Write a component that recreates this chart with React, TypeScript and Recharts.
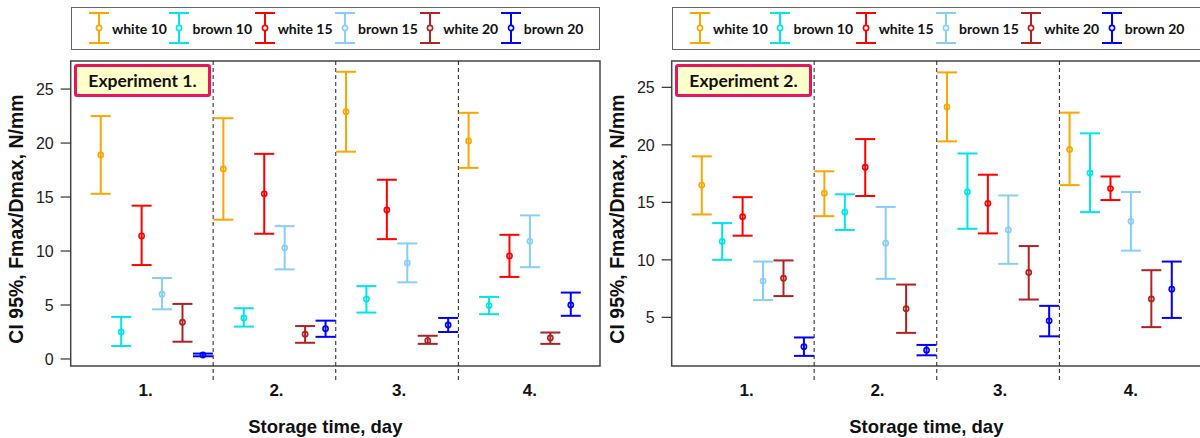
import React from "react";
import { ScatterChart, Scatter, XAxis, YAxis, ErrorBar, ReferenceLine, ReferenceArea, Label } from "recharts";

const seriesNames = ["white 10", "brown 10", "white 15", "brown 15", "white 20", "brown 20"];
const seriesColors = ["#FFA500", "#00E5EE", "#FF0000", "#87CEFA", "#B22222", "#0000FF"];
const dayLabels = ["1.", "2.", "3.", "4."];
const dayTickPos = [3.2, 9.6, 15.6, 22];
const dayDividers = [6.5, 12.5, 18.5];
const yTicks1 = [0, 5, 10, 15, 20, 25];
const yTicks2 = [5, 10, 15, 20, 25];

// rows = series (white 10 ... brown 20), columns = storage day 1..4
const exp1Mean = [
  [18.9, 17.6, 22.9, 20.2],
  [2.5, 3.8, 5.55, 4.95],
  [11.4, 15.3, 13.8, 9.55],
  [6.0, 10.3, 8.9, 10.9],
  [3.4, 2.3, 1.7, 1.95],
  [0.37, 2.8, 3.15, 5.0],
];
const exp1Low = [
  [15.3, 12.9, 19.2, 17.7],
  [1.2, 3.0, 4.3, 4.15],
  [8.7, 11.6, 11.1, 7.6],
  [4.6, 8.3, 7.1, 8.5],
  [1.6, 1.5, 1.4, 1.4],
  [0.25, 2.05, 2.5, 4.0],
];
const exp1High = [
  [22.5, 22.3, 26.6, 22.8],
  [3.9, 4.7, 6.75, 5.75],
  [14.2, 19.0, 16.6, 11.5],
  [7.5, 12.3, 10.7, 13.3],
  [5.1, 3.05, 2.15, 2.45],
  [0.5, 3.55, 3.8, 6.15],
];

const exp2Mean = [
  [16.5, 15.8, 23.3, 19.6],
  [11.6, 14.15, 15.9, 17.55],
  [13.75, 18.05, 14.9, 16.2],
  [8.15, 11.45, 12.6, 13.35],
  [8.4, 5.75, 8.9, 6.6],
  [2.45, 2.15, 4.7, 7.45],
];
const exp2Low = [
  [13.95, 13.8, 20.3, 16.5],
  [10.0, 12.6, 12.7, 14.15],
  [12.1, 15.55, 12.3, 15.2],
  [6.5, 8.35, 9.65, 10.8],
  [6.85, 3.65, 6.55, 4.15],
  [1.65, 1.7, 3.35, 4.95],
];
const exp2High = [
  [19.0, 17.7, 26.3, 22.8],
  [13.2, 15.7, 19.25, 21.0],
  [15.45, 20.5, 17.4, 17.25],
  [9.85, 14.6, 15.6, 15.9],
  [9.95, 7.85, 11.2, 9.1],
  [3.25, 2.6, 6.0, 9.85],
];

const R_FONT = "'Liberation Sans', Arial, sans-serif";
const CAL_FONT = "Lato, 'Open Sans', sans-serif";
const X_DOMAIN: [number, number] = [-0.47, 25.43];

const buildRows = (mean: number[][], low: number[][], high: number[][], s: number) =>
  mean[s].map((m, d) => ({
    x: d * 6 + s + 1,
    y: m,
    err: [m - low[s][d], high[s][d] - m],
  }));

const LegendIcon = ({ color }: { color: string }) => (
  <svg width={20} height={32} style={{ display: "block" }}>
    <line x1={10} y1={1} x2={10} y2={31} stroke={color} strokeWidth={2} />
    <line x1={0} y1={1} x2={20} y2={1} stroke={color} strokeWidth={2} />
    <line x1={0} y1={31} x2={20} y2={31} stroke={color} strokeWidth={2} />
    <circle cx={10} cy={16} r={2.6} fill="#fff" stroke={color} strokeWidth={1.6} />
  </svg>
);

const TopLegend = () => (
  <div
    style={{
      position: "absolute",
      left: 70.7,
      top: 6.7,
      width: 529.3,
      height: 43.3,
      boxSizing: "border-box",
      border: "1.5px solid #666",
      display: "flex",
      alignItems: "center",
      paddingLeft: 17.3,
      fontFamily: CAL_FONT,
      fontWeight: 700,
      fontSize: 14,
      color: "#111",
    }}
  >
    {seriesNames.map((n, i) => (
      <div key={n} style={{ display: "flex", alignItems: "center", marginRight: 2.5 }}>
        <LegendIcon color={seriesColors[i]} />
        <span style={{ marginLeft: 3, whiteSpace: "nowrap" }}>{n}</span>
      </div>
    ))}
  </div>
);

type PanelProps = {
  mean: number[][];
  low: number[][];
  high: number[][];
  yDomain: [number, number];
  yTicks: number[];
  title: string;
};

const Panel = ({ mean, low, high, yDomain, yTicks, title }: PanelProps) => (
  <div style={{ position: "relative", width: 602, height: 438 }}>
    <ScatterChart width={602} height={438} margin={{ top: 61, right: 2, bottom: 0, left: 0 }}>
      <XAxis
        type="number"
        dataKey="x"
        domain={X_DOMAIN}
        allowDataOverflow
        ticks={dayTickPos}
        interval={0}
        tickFormatter={(v: number) => dayLabels[dayTickPos.indexOf(v)] ?? ""}
        axisLine={false}
        tickLine={false}
        tickSize={10}
        tickMargin={8}
        height={72}
        tick={{ fontSize: 17, fontWeight: 700, fill: "#111", fontFamily: R_FONT }}
      >
        <Label
          content={(p: any) => {
            const vb = p.viewBox || { x: 70.7, y: 366, width: 529.3, height: 72 };
            return (
              <text
                x={vb.x + vb.width / 2 - 10}
                y={vb.y + vb.height - 5}
                textAnchor="middle"
                fontFamily={R_FONT}
                fontWeight={700}
                fontSize={18.5}
                fill="#111"
              >
                Storage time, day
              </text>
            );
          }}
        />
      </XAxis>
      <YAxis
        type="number"
        dataKey="y"
        domain={yDomain}
        allowDataOverflow
        ticks={yTicks}
        interval={0}
        width={70.7}
        axisLine={false}
        tickSize={10}
        tickMargin={7}
        tickLine={{ stroke: "#333", strokeWidth: 1.2 }}
        tick={{ fontSize: 16, fill: "#222", fontFamily: R_FONT }}
      >
        <Label
          content={(p: any) => {
            const vb = p.viewBox || { x: 0, y: 61, width: 70.7, height: 305 };
            const cx = vb.x + 23;
            const cy = vb.y + vb.height / 2 + 5.5;
            return (
              <text
                transform={`translate(${cx},${cy}) rotate(-90)`}
                textAnchor="middle"
                fontFamily={R_FONT}
                fontWeight={700}
                fontSize={19.5}
                fill="#111"
              >
                CI 95%, Fmax/Dmax, N/mm
              </text>
            );
          }}
        />
      </YAxis>
      <ReferenceArea
        x1={X_DOMAIN[0]}
        x2={X_DOMAIN[1]}
        y1={yDomain[0]}
        y2={yDomain[1]}
        fill="none"
        fillOpacity={0}
        stroke="#444"
        strokeWidth={1.5}
        ifOverflow="visible"
      />
      {dayDividers.map((d) => (
        <ReferenceLine
          key={d}
          x={d}
          ifOverflow="visible"
          shape={(p: any) => (
            <line
              x1={p.x1}
              x2={p.x2}
              y1={Math.min(p.y1, p.y2)}
              y2={Math.max(p.y1, p.y2) + 17}
              stroke="#222"
              strokeWidth={1}
              strokeDasharray="4 3"
            />
          )}
        />
      ))}
      {seriesNames.map((n, s) => (
        <Scatter
          key={n}
          name={n}
          data={buildRows(mean, low, high, s)}
          isAnimationActive={false}
          shape={(p: any) => (
            <circle cx={p.cx} cy={p.cy} r={2.6} fill="none" stroke={seriesColors[s]} strokeWidth={1.6} />
          )}
        >
          <ErrorBar
            dataKey="err"
            direction="y"
            width={10}
            stroke={seriesColors[s]}
            strokeWidth={2}
            isAnimationActive={false}
          />
        </Scatter>
      ))}
    </ScatterChart>
    <TopLegend />
    <div
      style={{
        position: "absolute",
        left: 74,
        top: 64,
        width: 137,
        height: 33,
        boxSizing: "border-box",
        border: "3px solid #E8175D",
        borderRadius: 3,
        background: "#FFFFCC",
        display: "flex",
        alignItems: "center",
        justifyContent: "center",
        fontFamily: CAL_FONT,
        fontWeight: 700,
        fontSize: 17.5,
        color: "#111",
      }}
    >
      {title}
    </div>
  </div>
);

export default function App() {
  return (
    <div
      style={{
        position: "absolute",
        left: 0,
        top: 0,
        width: 1200,
        height: 438,
        overflow: "hidden",
        background: "#fff",
      }}
    >
      <div style={{ position: "absolute", left: 0, top: 0 }}>
        <Panel mean={exp1Mean} low={exp1Low} high={exp1High} yDomain={[-0.65, 27.6]} yTicks={yTicks1} title="Experiment 1." />
      </div>
      <div style={{ position: "absolute", left: 601, top: 0 }}>
        <Panel mean={exp2Mean} low={exp2Low} high={exp2High} yDomain={[0.77, 27.29]} yTicks={yTicks2} title="Experiment 2." />
      </div>
    </div>
  );
}
